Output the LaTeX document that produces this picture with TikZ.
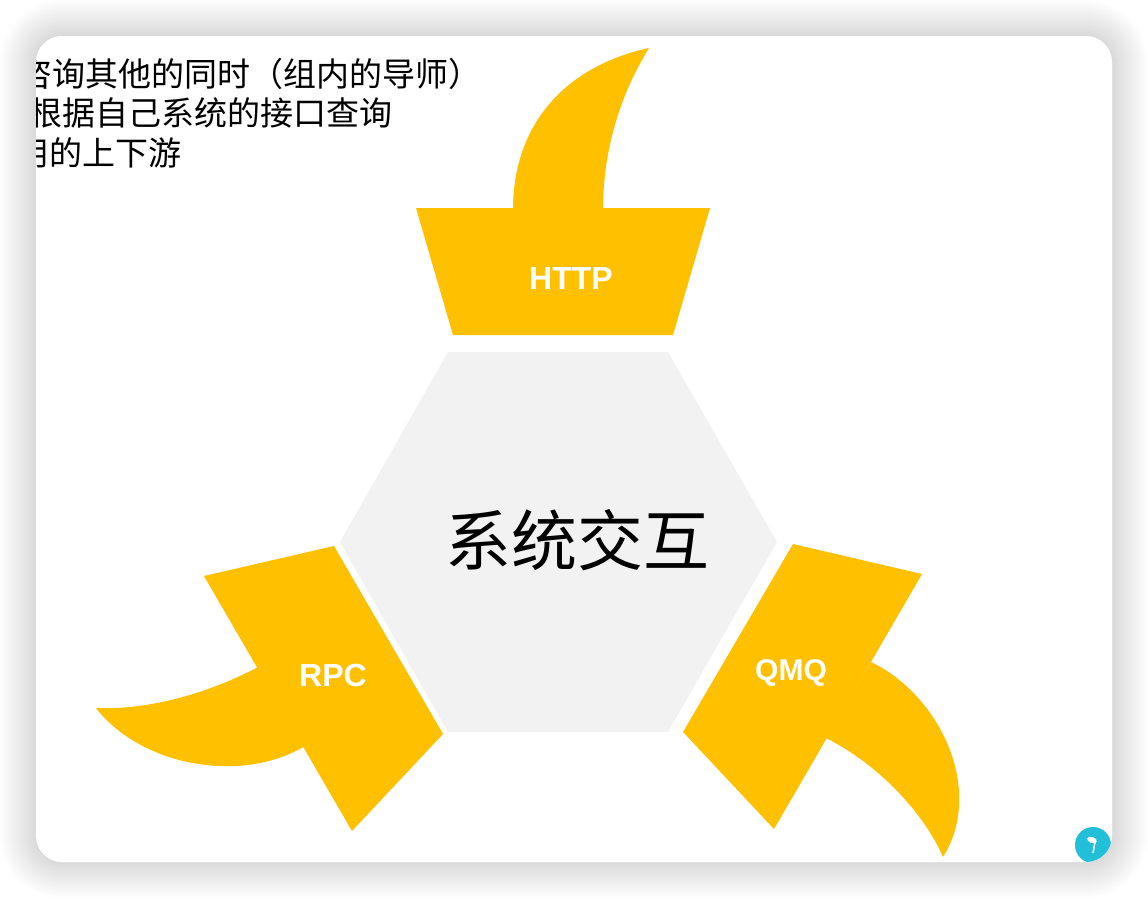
\documentclass[tikz,border=0pt]{standalone}
\usepackage{fontspec}
\setmainfont{Noto Sans CJK SC}
\newfontfamily\labelfont{Liberation Sans}
\definecolor{gold}{HTML}{FFC000}
\definecolor{hexgray}{HTML}{F2F2F2}
\definecolor{iconblue}{HTML}{22C0D8}
\tikzset{
  part/.style={fill=gold},
  tag/.style={text=white,inner sep=0pt,font=\labelfont\bfseries\fontsize{32}{32}\selectfont},
  note/.style={anchor=west,inner sep=0pt,font=\fontsize{33}{33}\selectfont}
}
\begin{document}
\begin{tikzpicture}[x=1pt,y=-1pt]
    \useasboundingbox (0,0) rectangle (1148,898);
    % card with soft shadow
    \foreach \s [evaluate=\s as \r using 26+2*\s] in {18,...,1}
        \fill[black,opacity=0.009,rounded corners=\r pt] (36-2*\s,36-2*\s) rectangle (1112+2*\s,862+2*\s);
    \fill[white,rounded corners=26pt] (36,36) rectangle (1112,862);
    \begin{scope}
        \clip[rounded corners=26pt] (36,36) rectangle (1112,862);
        \node [note] (l1) at (19,74) {咨询其他的同时（组内的导师）};
        \node [note] (l2) at (29,113) {根据自己系统的接口查询};
        \node [note] (l3) at (16,153) {用的上下游};
        \fill[iconblue] (1093,845) circle[radius=18pt];
        \fill[white] (1092,840) ellipse[x radius=5pt,y radius=3pt,rotate=-20];
        \draw[white,line width=1.5pt] (1095,842) -- (1093,853);
    \end{scope}
    % hexagon
    \fill[hexgray] (448,352) -- (668,352) -- (777,542) -- (668,732) -- (448,732) -- (340,542) -- cycle;
    \node [inner sep=0pt,font=\fontsize{66}{66}\selectfont] (core) at (577,540) {系统交互};
    % horns
    \fill[part] (513,210) .. controls (513,120) and (570,65) .. (649,48)
        .. controls (620,95) and (603,150) .. (603,210) -- cycle;
    \fill[part] (260,666) .. controls (200,698) and (140,710) .. (96,708)
        .. controls (140,765) and (240,785) .. (305,746) -- cycle;
    \fill[part] (871,662) .. controls (940,695) and (985,790) .. (943,857)
        .. controls (925,815) and (880,765) .. (826,738) -- cycle;
    % trapezoids
    \fill[part] (416,208) -- (710,208) -- (673,335) -- (453,335) -- cycle;
    \fill[part] (204,576) -- (334,546) -- (443,734) -- (352,831) -- cycle;
    \fill[part] (793,544) -- (922,574) -- (774,829) -- (683,732) -- cycle;
    \node [tag] (http) at (571,278) {HTTP};
    \node [tag] (rpc) at (333,675) {RPC};
    \node [tag,font=\labelfont\bfseries\fontsize{30}{30}\selectfont] (qmq) at (791,673) {QMQ};
\end{tikzpicture}
\end{document}
